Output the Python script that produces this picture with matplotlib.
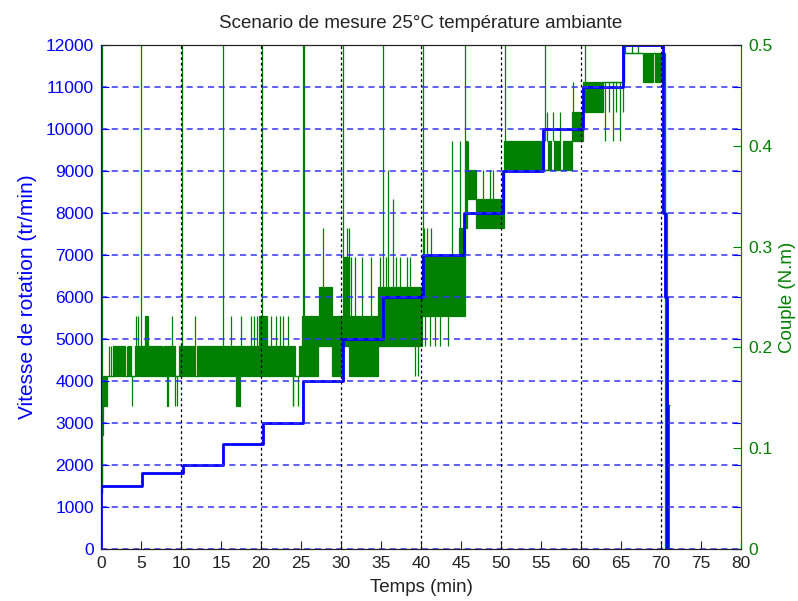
import numpy as np
import matplotlib.pyplot as plt

plt.rcParams['font.family'] = ['Liberation Sans', 'DejaVu Sans']

# Speed set-point (tr/min), stepped every ~5 min, then the stop at the end
speed_t = [0.0, 0.03, 5.1, 10.2, 15.2, 20.2, 25.3, 30.2, 35.2, 40.2, 45.4,
           50.3, 55.2, 60.2, 65.3, 70.3, 70.45, 70.7, 71.1]
speed_v = [0, 1500, 1800, 2000, 2500, 3000, 4000, 5000, 6000, 7000, 8000,
           9000, 10000, 11000, 12000, 8000, 6000, 0, 0]

# Torque (N.m): between consecutive edges the signal toggles between lo and hi
seg_edges = [0.00, 0.08, 0.25, 0.70, 1.50, 3.00, 3.40, 3.70, 4.20, 5.50, 5.85,
             7.60, 7.90, 8.20, 8.35, 9.20, 9.70, 11.80, 12.05, 16.90, 17.40,
             19.80, 20.80, 24.30, 24.80, 25.10, 27.10, 27.25, 28.90, 30.20,
             31.00, 34.60, 40.10, 44.70, 45.50, 45.80, 46.90, 50.40, 55.40,
             55.90, 56.30, 56.60, 57.40, 57.70, 58.90, 60.30, 62.80, 65.40,
             67.80, 69.00, 69.20, 70.50, 70.70, 71.10]
seg_lo = [0.056, 0.113, 0.142, 0.172, 0.172, 0.172, 0.172, 0.172, 0.172, 0.172,
          0.172, 0.172, 0.172, 0.142, 0.172, 0.172, 0.172, 0.172, 0.172, 0.142,
          0.172, 0.172, 0.172, 0.172, 0.172, 0.172, 0.201, 0.201, 0.172, 0.201,
          0.172, 0.201, 0.231, 0.231, 0.318, 0.347, 0.318, 0.376, 0.376, 0.376,
          0.376, 0.376, 0.376, 0.376, 0.405, 0.434, 0.463, 0.492, 0.463, 0.492,
          0.463, 0.000, 0.000]
seg_hi = [0.056, 0.172, 0.172, 0.172, 0.201, 0.172, 0.201, 0.172, 0.201, 0.231,
          0.201, 0.172, 0.201, 0.172, 0.201, 0.172, 0.201, 0.172, 0.201, 0.201,
          0.201, 0.231, 0.201, 0.172, 0.201, 0.231, 0.201, 0.260, 0.231, 0.290,
          0.231, 0.260, 0.290, 0.318, 0.405, 0.376, 0.347, 0.405, 0.376, 0.405,
          0.376, 0.405, 0.376, 0.405, 0.434, 0.463, 0.463, 0.492, 0.492, 0.492,
          0.492, 0.333, 0.143]

# isolated torque excursions (time, from, to)
flick_t = [0.15, 5.05, 10.1, 15.2, 20.1, 25.25, 25.35, 30.2, 35.25, 40.25,
           45.5, 50.5, 55.45, 60.45, 65.5,
           0.95, 1.25, 3.2, 3.9, 4.35, 4.65, 7.75, 8.9, 9.3, 9.55, 11.75,
           16.3, 17.45, 18.8, 19.15, 19.5, 21.3, 21.9, 22.4, 22.8, 23.4,
           23.95, 24.05, 24.65, 27.8, 30.7, 31.0, 31.3, 31.8, 32.6, 33.8,
           34.9, 35.6, 35.9, 36.5, 36.9, 37.4, 38.2, 38.6, 39.2, 39.6,
           40.4, 40.7, 41.3, 40.5, 41.1, 41.75, 42.4, 43.4, 43.9, 44.9,
           45.6, 45.9, 47.8, 48.6, 49.0, 55.8, 56.5, 57.4, 59.0,
           63.0, 63.5, 64.0, 64.4, 64.9, 65.2, 66.4, 67.1]
flick_lo = [0.172, 0.201, 0.201, 0.201, 0.231, 0.231, 0.231, 0.290, 0.260, 0.290,
            0.405, 0.405, 0.405, 0.463, 0.492,
            0.172, 0.172, 0.172, 0.142, 0.201, 0.201, 0.172, 0.201, 0.142, 0.142, 0.201,
            0.201, 0.201, 0.201, 0.201, 0.201, 0.201, 0.201, 0.201, 0.201, 0.201,
            0.142, 0.142, 0.142, 0.260, 0.290, 0.231, 0.231, 0.231, 0.231, 0.231,
            0.260, 0.260, 0.260, 0.260, 0.260, 0.260, 0.260, 0.260, 0.172, 0.172,
            0.290, 0.290, 0.290, 0.201, 0.201, 0.201, 0.201, 0.201, 0.290, 0.318,
            0.376, 0.376, 0.347, 0.347, 0.347, 0.405, 0.405, 0.405, 0.434,
            0.405, 0.434, 0.405, 0.434, 0.405, 0.434, 0.492, 0.492]
flick_hi = [0.5, 0.5, 0.5, 0.5, 0.5, 0.5, 0.5, 0.5, 0.5, 0.5,
            0.5, 0.5, 0.5, 0.5, 0.5,
            0.201, 0.201, 0.201, 0.172, 0.231, 0.231, 0.201, 0.231, 0.172, 0.172, 0.231,
            0.231, 0.231, 0.231, 0.231, 0.231, 0.231, 0.231, 0.231, 0.231, 0.231,
            0.172, 0.172, 0.172, 0.318, 0.318, 0.318, 0.290, 0.290, 0.290, 0.290,
            0.290, 0.290, 0.376, 0.347, 0.290, 0.290, 0.290, 0.290, 0.201, 0.201,
            0.318, 0.318, 0.318, 0.231, 0.231, 0.231, 0.231, 0.231, 0.405, 0.405,
            0.405, 0.405, 0.376, 0.376, 0.376, 0.434, 0.434, 0.434, 0.463,
            0.463, 0.463, 0.463, 0.463, 0.463, 0.463, 0.5, 0.5]

x_ticks = np.arange(0, 81, 5)
x_grid = np.arange(10, 80, 10)
speed_ticks = np.arange(0, 12001, 1000)
torque_ticks = [0, 0.1, 0.2, 0.3, 0.4, 0.5]
torque_labels = ['0', '0.1', '0.2', '0.3', '0.4', '0.5']

green = '#008000'
blue = '#0000ff'
grid_blue = '#3333ff'
dark = '#222222'
fs = 12.5

fig = plt.figure(figsize=(7.98, 6.01), dpi=100)
ax_c = fig.add_axes([0.1266, 0.0865, 0.802, 0.8386])   # torque (right)
ax_v = ax_c.twinx()                                     # speed (left, on top)

# torque trace
ax_c.stairs(seg_hi, seg_edges, baseline=seg_lo, fill=True, color=green,
            linewidth=0.6)
ax_c.stairs(seg_hi, seg_edges, baseline=None, color=green, linewidth=0.9)
ax_c.stairs(seg_lo, seg_edges, baseline=None, color=green, linewidth=0.9)
ax_c.vlines(flick_t, flick_lo, flick_hi, color=green, linewidth=0.9)

ax_c.set_xlim(0, 80)
ax_c.set_ylim(0, 0.5)
ax_c.set_xticks(x_ticks)
ax_c.set_xticklabels([str(v) for v in x_ticks], fontsize=fs, color=dark)
ax_c.yaxis.tick_right()
ax_c.yaxis.set_label_position('right')
ax_c.set_yticks(torque_ticks)
ax_c.set_yticklabels(torque_labels, fontsize=fs, color=green)
ax_c.tick_params(axis='x', direction='in', length=5.5, top=False, pad=5,
                 color=dark)
ax_c.tick_params(axis='y', direction='in', length=5.5, colors=green, pad=5,
                 left=False, right=True)
ax_c.set_ylabel('Couple (N.m)', color=green, fontsize=13.5, labelpad=5)
ax_c.set_xlabel('Temps (min)', fontsize=13.5, color=dark, labelpad=6)
ax_c.set_title('Scenario de mesure 25°C température ambiante', fontsize=13.5,
               color=dark, pad=12)

# speed step profile
ax_v.step(speed_t, speed_v, where='post', color=blue, linewidth=2, zorder=2)
ax_v.set_ylim(0, 12000)
ax_v.yaxis.tick_left()
ax_v.yaxis.set_label_position('left')
ax_v.set_yticks(speed_ticks)
ax_v.set_yticklabels([str(v) for v in speed_ticks], fontsize=fs, color=blue)
ax_v.tick_params(axis='y', direction='in', length=5.5, colors=blue,
                 left=True, right=True, labelleft=True, labelright=False, pad=5)
ax_v.set_ylabel('Vitesse de rotation (tr/min)', color=blue, fontsize=15,
                labelpad=6)
ax_v.grid(True, axis='y', color=grid_blue, linestyle=(0, (4, 3)),
          linewidth=1.1)
ax_v.set_axisbelow(False)
for xg in x_grid:
    ax_v.axvline(xg, color='black', linestyle=(0, (2.2, 2.2)), linewidth=0.9,
                 zorder=3)

for ax in (ax_c, ax_v):
    ax.spines['left'].set_color(blue)
    ax.spines['right'].set_color(green)
    ax.spines['top'].set_color(dark)
    ax.spines['bottom'].set_color(dark)
    for sp in ax.spines.values():
        sp.set_zorder(4)

fig.savefig('out.png', dpi=100)
